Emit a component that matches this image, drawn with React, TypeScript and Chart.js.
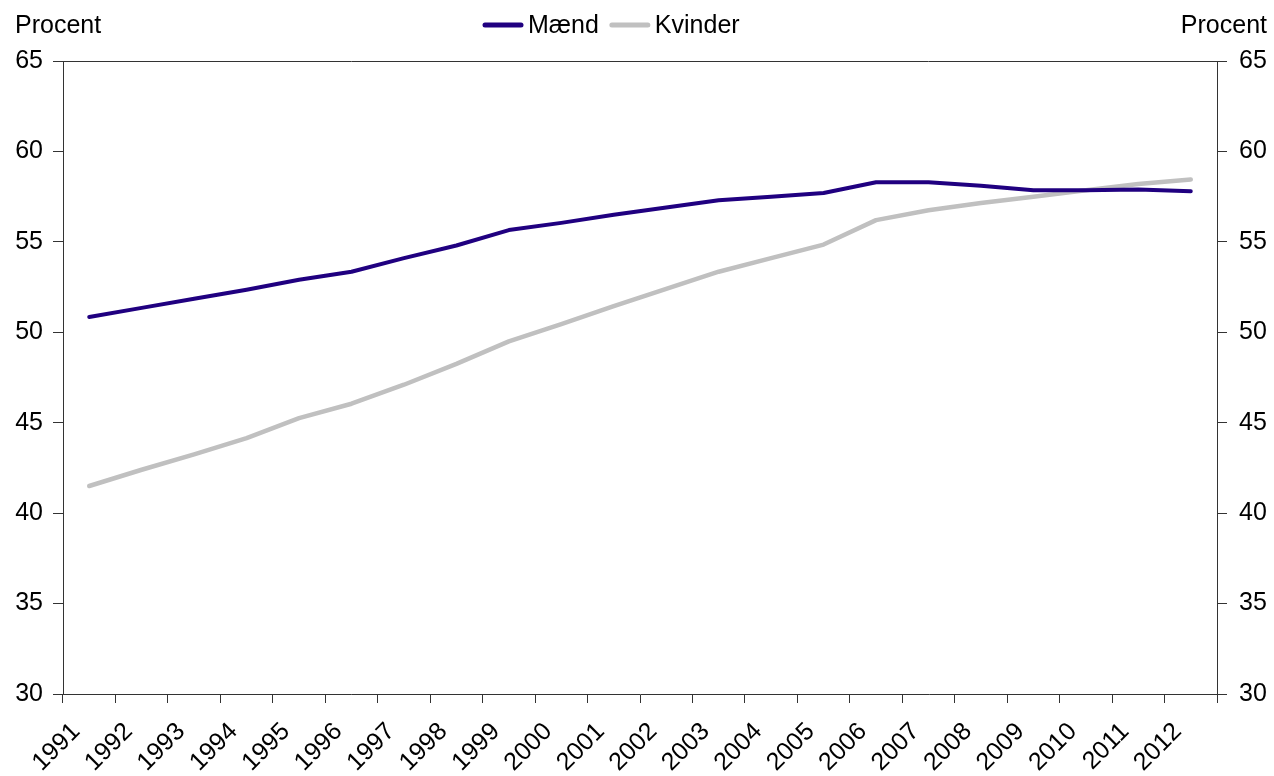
import React, { useEffect, useRef } from "react";
import { Chart, registerables } from "chart.js";

Chart.register(...registerables);

const years = ["1991","1992","1993","1994","1995","1996","1997","1998","1999","2000","2001","2002","2003","2004","2005","2006","2007","2008","2009","2010","2011","2012"];
const maend = [50.85,51.35,51.85,52.35,52.9,53.35,54.1,54.8,55.65,56.05,56.5,56.9,57.3,57.5,57.7,58.3,58.3,58.1,57.85,57.85,57.9,57.8];
const kvinder = [41.5,42.4,43.25,44.15,45.25,46.05,47.1,48.25,49.5,50.45,51.45,52.4,53.35,54.1,54.85,56.2,56.75,57.15,57.5,57.85,58.2,58.45];
const yTickValues = [30,35,40,45,50,55,60,65];
const axisTitle = "Procent";
const seriesNames = ["Mænd", "Kvinder"];

const FONT = '"Liberation Sans", Arial, sans-serif';
const FS = 25;
const AXIS = "#333333";

const overlay = {
  id: "overlay",
  afterDraw(chart: any) {
    const { ctx, chartArea } = chart;
    ctx.save();
    ctx.strokeStyle = AXIS;
    ctx.lineWidth = 1;
    ctx.beginPath();
    ctx.moveTo(chartArea.left, chartArea.top + 0.5);
    ctx.lineTo(chartArea.right, chartArea.top + 0.5);
    ctx.stroke();
    ctx.fillStyle = "#000";
    ctx.font = `${FS}px ${FONT}`;
    ctx.textBaseline = "alphabetic";
    ctx.textAlign = "left";
    ctx.fillText(axisTitle, 15, 33);
    ctx.textAlign = "right";
    ctx.fillText(axisTitle, 1267, 33);
    ctx.textAlign = "left";
    let x = 483;
    chart.data.datasets.forEach((ds: any) => {
      ctx.strokeStyle = ds.borderColor;
      ctx.lineWidth = 5;
      ctx.lineCap = "round";
      ctx.beginPath();
      ctx.moveTo(x + 2, 25);
      ctx.lineTo(x + 38, 25);
      ctx.stroke();
      x += 45;
      ctx.fillStyle = "#000";
      ctx.fillText(ds.label, x, 33);
      x += ctx.measureText(ds.label).width + 11;
    });
    ctx.restore();
  },
};

const yAxis = (position: "left" | "right", pad: number, w: number) => ({
  type: "linear" as const,
  position,
  min: 30,
  max: 65,
  afterBuildTicks: (s: any) => {
    s.ticks = yTickValues.map((v) => ({ value: v }));
  },
  afterFit: (s: any) => {
    s.width = w;
  },
  ticks: {
    color: "#000",
    font: { family: FONT, size: FS },
    padding: pad,
  },
  grid: {
    drawOnChartArea: false,
    drawTicks: true,
    tickLength: 10,
    color: AXIS,
  },
  border: { display: true, color: AXIS, width: 1 },
});

export default function App() {
  const ref = useRef<HTMLCanvasElement>(null);
  useEffect(() => {
    if (!ref.current) return;
    const chart = new Chart(ref.current, {
      type: "line",
      data: {
        labels: years,
        datasets: [
          {
            label: seriesNames[0],
            data: maend,
            borderColor: "#200080",
            backgroundColor: "#200080",
            borderWidth: 4,
            pointRadius: 0,
            tension: 0,
            borderCapStyle: "round",
            borderJoinStyle: "round",
            yAxisID: "y",
          },
          {
            label: seriesNames[1],
            data: kvinder,
            borderColor: "#C0C0C0",
            backgroundColor: "#C0C0C0",
            borderWidth: 4.5,
            pointRadius: 0,
            tension: 0,
            borderCapStyle: "round",
            borderJoinStyle: "round",
            yAxisID: "y",
          },
        ],
      },
      options: {
        animation: false,
        responsive: true,
        maintainAspectRatio: false,
        layout: { padding: { top: 61, left: 15, right: 7, bottom: 0 } },
        plugins: { legend: { display: false }, title: { display: false }, tooltip: { enabled: false } },
        scales: {
          x: {
            type: "category",
            offset: true,
            afterFit: (s: any) => {
              s.height = 82;
              s.paddingLeft = 0;
              s.paddingRight = 0;
            },
            ticks: {
              color: "#000",
              font: { family: FONT, size: FS },
              minRotation: 45,
              maxRotation: 45,
              autoSkip: false,
              padding: 14,
              labelOffset: -13,
            },
            grid: {
              offset: true,
              drawOnChartArea: false,
              drawTicks: true,
              tickLength: 9,
              color: AXIS,
            },
            border: { display: true, color: AXIS, width: 1 },
          },
          y: yAxis("left", 10, 48),
          y2: yAxis("right", 12, 50),
        },
      },
      plugins: [overlay],
    });
    return () => chart.destroy();
  }, []);
  return (
    <div style={{ position: "absolute", left: 0, top: 0, width: 1274, height: 776, background: "#fff" }}>
      <canvas ref={ref} />
    </div>
  );
}
